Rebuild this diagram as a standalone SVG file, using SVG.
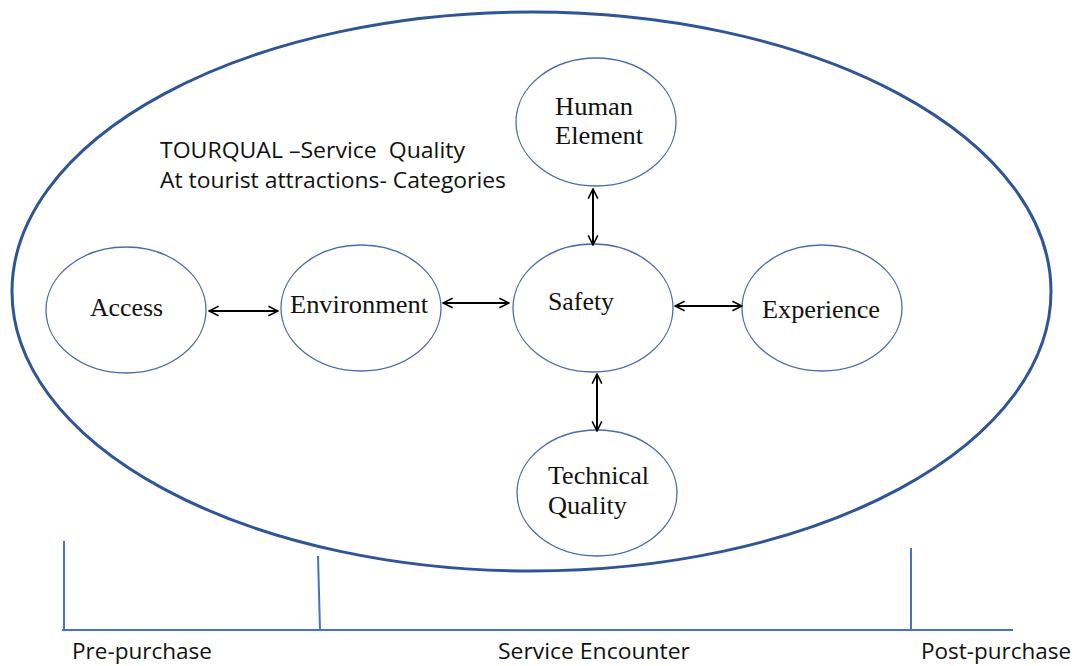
<svg xmlns="http://www.w3.org/2000/svg" width="1078" height="666" viewBox="0 0 1078 666">
<style>
.outer{fill:none;stroke:#2F5597;stroke-width:3}
.node{fill:#fff;stroke:#4A6BAE;stroke-width:1.3}
.lbl{font-family:"Liberation Serif","Times New Roman",serif;font-size:25px;fill:#111}
.sans{font-family:"Open Sans","Liberation Sans",sans-serif;font-size:21px;fill:#111;white-space:pre}
.conn{stroke:#000;stroke-width:2;fill:none;marker-start:url(#ah);marker-end:url(#ah)}
.axis{stroke:#4472C4;stroke-width:2;fill:none}
</style>
<defs>
<marker id="ah" viewBox="0 0 10 10" refX="9" refY="5" markerWidth="6" markerHeight="6" orient="auto-start-reverse" markerUnits="strokeWidth">
<path d="M1,1 L9,5 L1,9" fill="none" stroke="#000" stroke-width="1.3"/>
</marker>
</defs>
<rect width="1078" height="666" fill="#fff"/>
<ellipse class="outer" cx="531.5" cy="291.5" rx="519.5" ry="279.5"/>
<text class="sans" x="160" y="158" textLength="305" lengthAdjust="spacingAndGlyphs" xml:space="preserve">TOURQUAL –Service  Quality</text>
<text class="sans" x="160" y="188" textLength="346" lengthAdjust="spacingAndGlyphs">At tourist attractions- Categories</text>
<g id="access"><ellipse class="node" cx="126" cy="310" rx="80" ry="63"/><text class="lbl" x="90" y="316" textLength="73" lengthAdjust="spacingAndGlyphs">Access</text></g>
<g id="environment"><ellipse class="node" cx="361" cy="308" rx="80" ry="63"/><text class="lbl" x="290" y="313" textLength="138" lengthAdjust="spacingAndGlyphs">Environment</text></g>
<g id="safety"><ellipse class="node" cx="593" cy="308" rx="80" ry="64"/><text class="lbl" x="548" y="310" textLength="66" lengthAdjust="spacingAndGlyphs">Safety</text></g>
<g id="experience"><ellipse class="node" cx="822" cy="308" rx="80" ry="63"/><text class="lbl" x="762" y="318" textLength="118" lengthAdjust="spacingAndGlyphs">Experience</text></g>
<g id="human"><ellipse class="node" cx="596" cy="122" rx="80" ry="64"/><text class="lbl" x="555" y="115" textLength="78" lengthAdjust="spacingAndGlyphs">Human</text><text class="lbl" x="555" y="144" textLength="88" lengthAdjust="spacingAndGlyphs">Element</text></g>
<g id="technical"><ellipse class="node" cx="597" cy="493" rx="80" ry="63"/><text class="lbl" x="548" y="484" textLength="101" lengthAdjust="spacingAndGlyphs">Technical</text><text class="lbl" x="548" y="514" textLength="79" lengthAdjust="spacingAndGlyphs">Quality</text></g>
<g id="connectors">
<line class="conn" x1="209" y1="311" x2="278" y2="311"/>
<line class="conn" x1="443" y1="303" x2="509" y2="303"/>
<line class="conn" x1="675" y1="306" x2="742" y2="306"/>
<line class="conn" x1="593" y1="189" x2="593" y2="245"/>
<line class="conn" x1="597" y1="374" x2="597" y2="431"/>
</g>
<g id="timeline">
<line class="axis" x1="62" y1="630" x2="1013" y2="630"/>
<line class="axis" x1="64" y1="541" x2="64" y2="630"/>
<line class="axis" x1="318" y1="556" x2="320" y2="630"/>
<line class="axis" x1="911" y1="548" x2="911" y2="630"/>
<text class="sans" x="72" y="659" textLength="140" lengthAdjust="spacingAndGlyphs">Pre-purchase</text>
<text class="sans" x="498" y="659" textLength="192" lengthAdjust="spacingAndGlyphs">Service Encounter</text>
<text class="sans" x="921" y="659" textLength="150" lengthAdjust="spacingAndGlyphs">Post-purchase</text>
</g>
</svg>
